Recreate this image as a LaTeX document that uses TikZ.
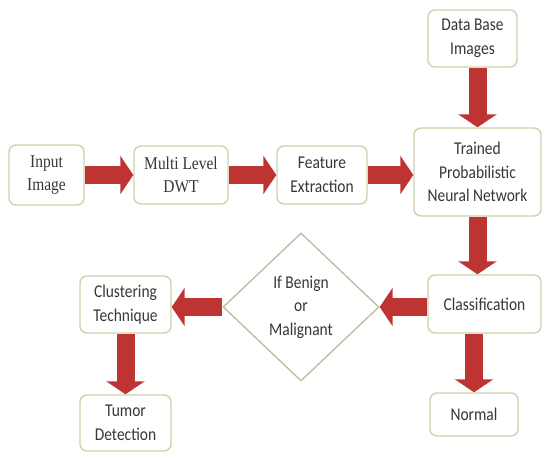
\documentclass[tikz,border=0pt]{standalone}
\usepackage{fontspec}
\setmainfont{Carlito}[FakeStretch=0.86]
\newfontfamily\serifx{Liberation Serif}[FakeStretch=0.86]
\usetikzlibrary{arrows.meta,shapes.geometric}
\definecolor{arrowred}{RGB}{190,52,50}
\definecolor{boxline}{RGB}{205,210,175}
\definecolor{txtgray}{RGB}{55,55,55}
\tikzset{
  box/.style={draw=boxline, line width=1.4pt, rounded corners=7pt, fill=white,
    inner sep=0pt, align=center, text=txtgray,
    font=\fontsize{18}{23.5}\selectfont},
  dia/.style={draw=boxline!90!black, line width=1.3pt, diamond, fill=white,
    inner sep=0pt, align=center, text=txtgray,
    font=\fontsize{18}{23.5}\selectfont,
    minimum width=156pt, minimum height=148pt},
  bigarrow/.style={draw=arrowred, line width=18pt,
    -{Triangle[length=13pt,width=38pt]}}
}
\begin{document}
\begin{tikzpicture}[x=1pt,y=-1pt]
\useasboundingbox (0,0) rectangle (546,453);
\node[box, minimum width=75pt, minimum height=60pt, font=\serifx\fontsize{18}{23.5}\selectfont] (input) at (46.5,175) {Input\\Image};
\node[box, minimum width=94pt, minimum height=58pt, font=\serifx\fontsize{18}{23.5}\selectfont] (dwt) at (181,175) {Multi Level\\DWT};
\node[box, minimum width=90pt, minimum height=58pt] (feat) at (322,175) {Feature\\Extraction};
\node[box, minimum width=127pt, minimum height=88pt] (pnn) at (477.5,172) {Trained\\Probabilistic\\Neural Network};
\node[box, minimum width=89pt, minimum height=57pt] (db) at (472.5,38.5) {Data Base\\Images};
\node[box, minimum width=113pt, minimum height=58pt] (class) at (484.5,304) {Classification};
\node[box, minimum width=88pt, minimum height=43pt] (normal) at (474,414.5) {Normal};
\node[dia] (dec) at (301,307) {If Benign\\or\\Malignant};
\node[box, minimum width=91pt, minimum height=57pt] (clust) at (125.5,304.5) {Clustering\\Technique};
\node[box, minimum width=91pt, minimum height=56pt] (tumor) at (125.5,423) {Tumor\\Detection};

\draw[bigarrow] (input.east) -- (dwt.west);
\draw[bigarrow] (dwt.east) -- (feat.west);
\draw[bigarrow] (feat.east) -- (feat.east -| pnn.west);
\draw[bigarrow] (pnn.north |- db.south) -- (pnn.north);
\draw[bigarrow] (pnn.south) -- (pnn.south |- class.north);
\draw[bigarrow] (normal.north |- class.south) -- (normal.north);
\draw[bigarrow] (class.west |- dec.east) -- (dec.east);
\draw[bigarrow] (dec.west) -- (dec.west -| clust.east);
\draw[bigarrow] (clust.south) -- (tumor.north);
\end{tikzpicture}
\end{document}
